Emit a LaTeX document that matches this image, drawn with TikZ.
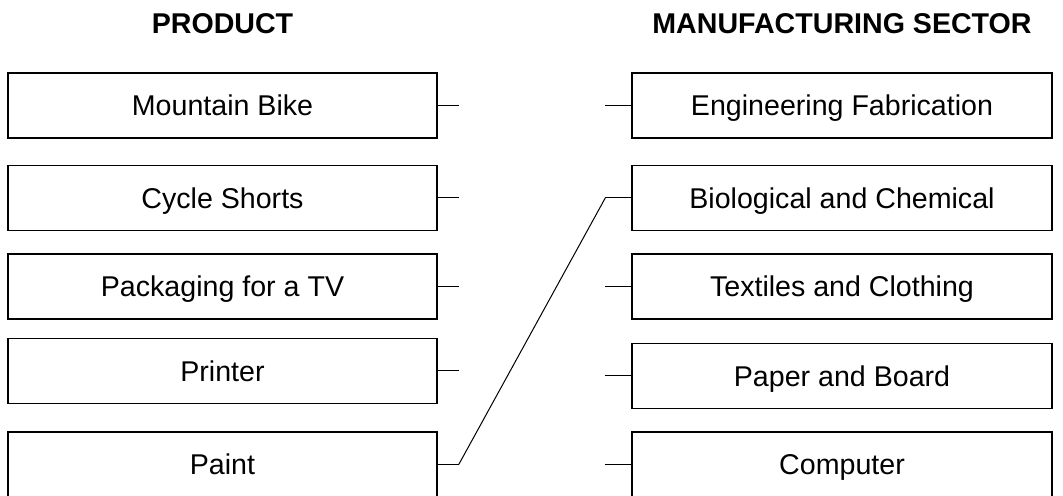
\documentclass[tikz,border=0pt]{standalone}
\usepackage{fontspec}
\setmainfont{Liberation Sans}
\usetikzlibrary{positioning}

\begin{document}
\begin{tikzpicture}[x=0.5pt,y=0.5pt,node distance=12.5pt,
  prod/.style={draw,rectangle,line width=0.75pt,minimum width=214.5pt,minimum height=32.5pt,inner sep=0pt,
    text height=13pt,text depth=2.5pt,font=\fontsize{14.3}{16}\selectfont},
  sect/.style={prod,minimum width=210pt},
  head/.style={inner sep=0pt,font=\fontsize{14.3}{16}\selectfont\bfseries},
  stub/.style={line width=0.5pt}]
  \useasboundingbox (0,0) rectangle (1063,496);

  \node[prod] (p1) at (222.5,390.5) {Mountain Bike};
  \node[prod] (p2) [below=13pt of p1] {Cycle Shorts};
  \node[prod] (p3) [below=11pt of p2] {Packaging for a TV};
  \node[prod] (p4) [below=9pt of p3] {Printer};
  \node[prod] (p5) [below=13.5pt of p4] {Paint};

  \node[sect] (s1) at (842,390.5) {Engineering Fabrication};
  \node[sect] (s2) [below=13pt of s1] {Biological and Chemical};
  \node[sect] (s3) [below=11pt of s2] {Textiles and Clothing};
  \node[sect] (s4) [below=11.5pt of s3] {Paper and Board};
  \node[sect] (s5) [below=11pt of s4] {Computer};

  \node[head] (hp) [above=19pt of p1] {PRODUCT};
  \node[head] (hs) [above=19pt of s1] {MANUFACTURING SECTOR};

  % stubs
  \foreach \i in {1,...,5} {
    \coordinate (pe\i) at ([xshift=10.5pt]p\i.east);
    \coordinate (sw\i) at ([xshift=-13pt]s\i.west);
    \draw[stub] (p\i.east) -- (pe\i);
    \draw[stub] (s\i.west) -- (sw\i);
  }
  \draw[stub] (pe5) -- (sw2);
\end{tikzpicture}
\end{document}
